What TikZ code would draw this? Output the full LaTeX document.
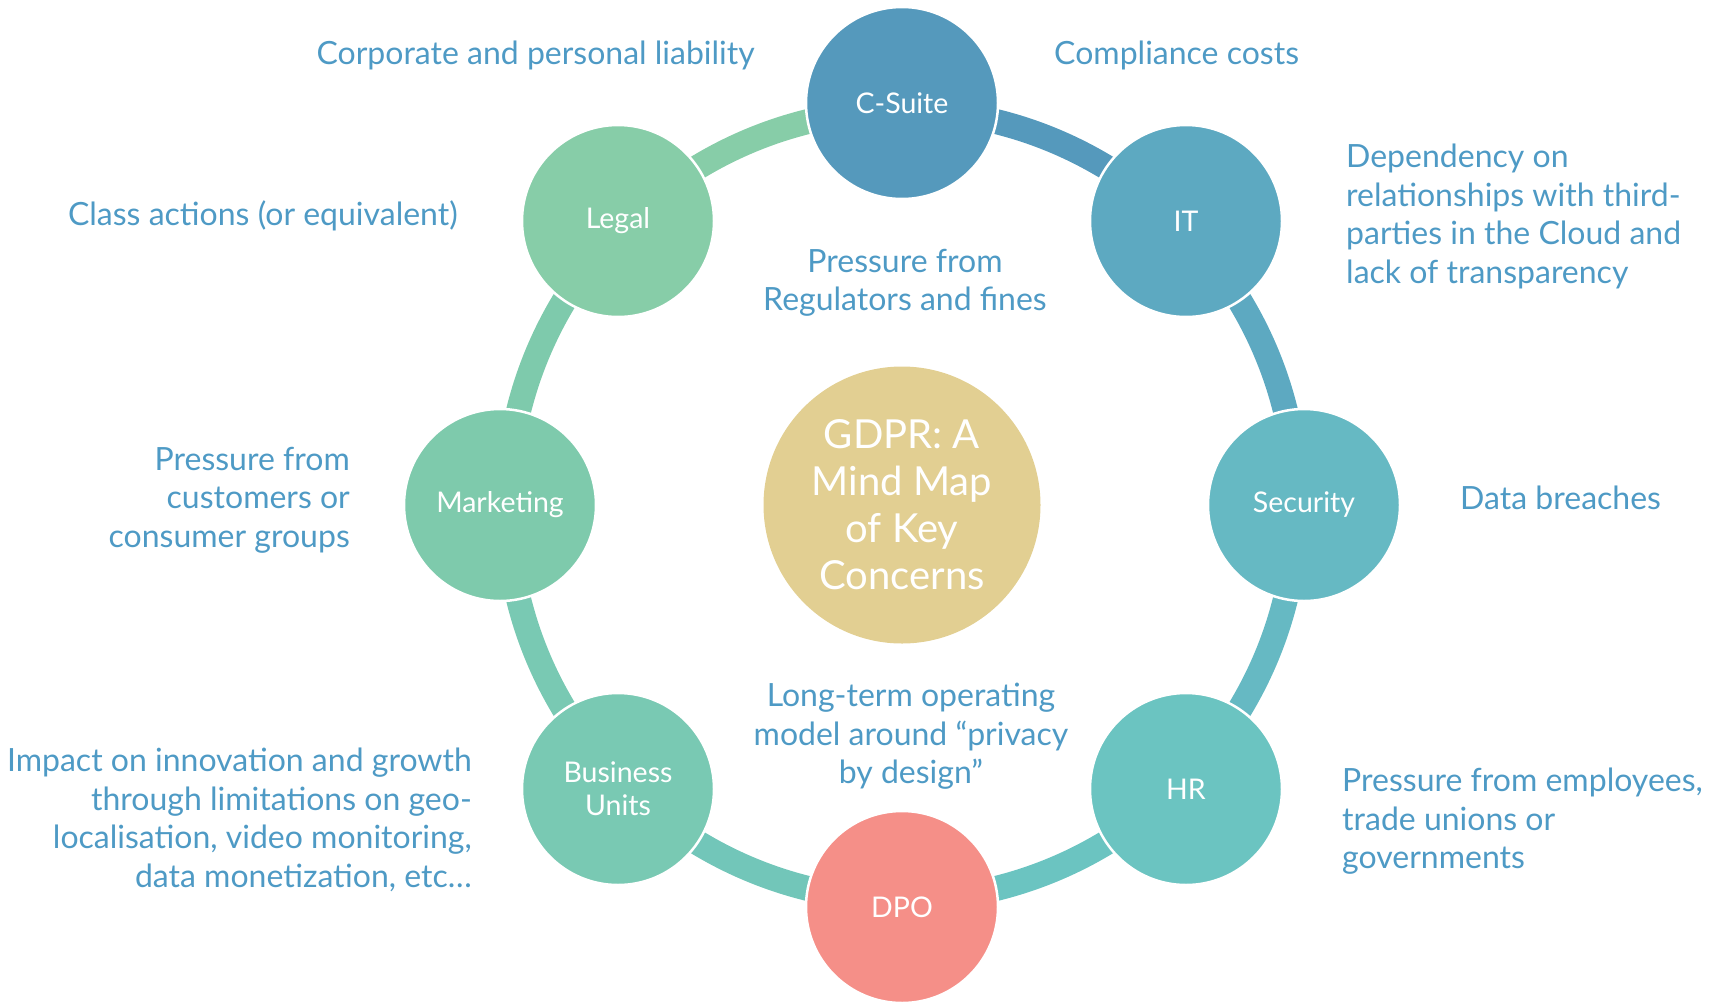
\documentclass[tikz,border=0pt]{standalone}
\usepackage{fontspec}
\setmainfont{Lato}
\usetikzlibrary{backgrounds,calc}

\definecolor{csuiteC}{HTML}{5599BC}
\definecolor{itC}{HTML}{5DA9C1}
\definecolor{secC}{HTML}{66B9C3}
\definecolor{hrC}{HTML}{6BC4C1}
\definecolor{dpoC}{HTML}{F58F88}
\definecolor{linkC}{HTML}{72C6B9}
\definecolor{buC}{HTML}{79C9B3}
\definecolor{mktC}{HTML}{7ECAAC}
\definecolor{legalC}{HTML}{87CDA8}
\definecolor{coreC}{HTML}{E2CF92}
\definecolor{noteC}{HTML}{4E9AC5}

\begin{document}
\begin{tikzpicture}[x=1pt,y=-1pt,
  hub/.style={circle, minimum size=192pt, inner sep=0pt, draw=white, line width=2.5pt,
    text=white, font=\fontsize{28.5}{33}\selectfont, align=center},
  core/.style={circle, minimum size=277pt, inner sep=0pt, fill=coreC, text=white,
    font=\fontsize{40}{47}\selectfont, align=center},
  note/.style={text=noteC, font=\fontsize{32}{38.5}\selectfont, inner sep=0pt},
  band/.style={line width=25pt, bend left=22.5, looseness=0.885}
]
\useasboundingbox (0,0) rectangle (1725,1002);

% centre
\node[core] (gdpr) at (902,505) {GDPR: A\\Mind Map\\of Key\\Concerns};

% stakeholders around the ring
\node[hub, fill=csuiteC] (csuite) at (902,103) {C-Suite};
\node[hub, fill=itC]     (it)     at (1186,221) {IT};
\node[hub, fill=secC]    (sec)    at (1304,505) {Security};
\node[hub, fill=hrC]     (hr)     at (1186,789) {HR};
\node[hub, fill=dpoC]    (dpo)    at (902,907) {DPO};
\node[hub, fill=buC]     (bu)     at (618,789) {Business\\Units};
\node[hub, fill=mktC]    (mkt)    at (500,505) {Marketing};
\node[hub, fill=legalC]  (legal)  at (618,221) {Legal};

% ring segments behind the circles (ring runs slightly inside the circle centres)
\def\ringk{0.9826}
\begin{scope}[on background layer]
  \draw[band, csuiteC] ($(gdpr)!\ringk!(csuite)$) to ($(gdpr)!\ringk!(it)$);
  \draw[band, itC]     ($(gdpr)!\ringk!(it)$)     to ($(gdpr)!\ringk!(sec)$);
  \draw[band, secC]    ($(gdpr)!\ringk!(sec)$)    to ($(gdpr)!\ringk!(hr)$);
  \draw[band, hrC]     ($(gdpr)!\ringk!(hr)$)     to ($(gdpr)!\ringk!(dpo)$);
  \draw[band, linkC]   ($(gdpr)!\ringk!(dpo)$)    to ($(gdpr)!\ringk!(bu)$);
  \draw[band, buC]     ($(gdpr)!\ringk!(bu)$)     to ($(gdpr)!\ringk!(mkt)$);
  \draw[band, mktC]    ($(gdpr)!\ringk!(mkt)$)    to ($(gdpr)!\ringk!(legal)$);
  \draw[band, legalC]  ($(gdpr)!\ringk!(legal)$)  to ($(gdpr)!\ringk!(csuite)$);
\end{scope}

% concerns
\node[note, anchor=base east] (corp) at (755,64) {Corporate and personal liability};
\node[note, anchor=base west] (comp) at (1054,64) {Compliance costs};
\node[note, anchor=base east] (class) at (458,225) {Class actions (or equivalent)};
\node[note, anchor=base west] (breach) at (1460,509) {Data breaches};
\node[note, anchor=north, align=center] (reg) at (905,249) {Pressure from\\Regulators and fines};
\node[note, anchor=north west, align=left] (dep) at (1346,144)
  {Dependency on\\relationships with third-\\parties in the Cloud and\\lack of transparency};
\node[note, anchor=north east, align=right] (cust) at (350,447)
  {Pressure from\\customers or\\consumer groups};
\node[note, anchor=north, align=center] (ops) at (911,683)
  {Long-term operating\\model around “privacy\\by design”};
\node[note, anchor=north east, align=right] (imp) at (472,748)
  {Impact on innovation and growth\\through limitations on geo-\\localisation, video monitoring,\\data monetization, etc…};
\node[note, anchor=north west, align=left] (emp) at (1342,768)
  {Pressure from employees,\\trade unions or\\governments};
\end{tikzpicture}
\end{document}
